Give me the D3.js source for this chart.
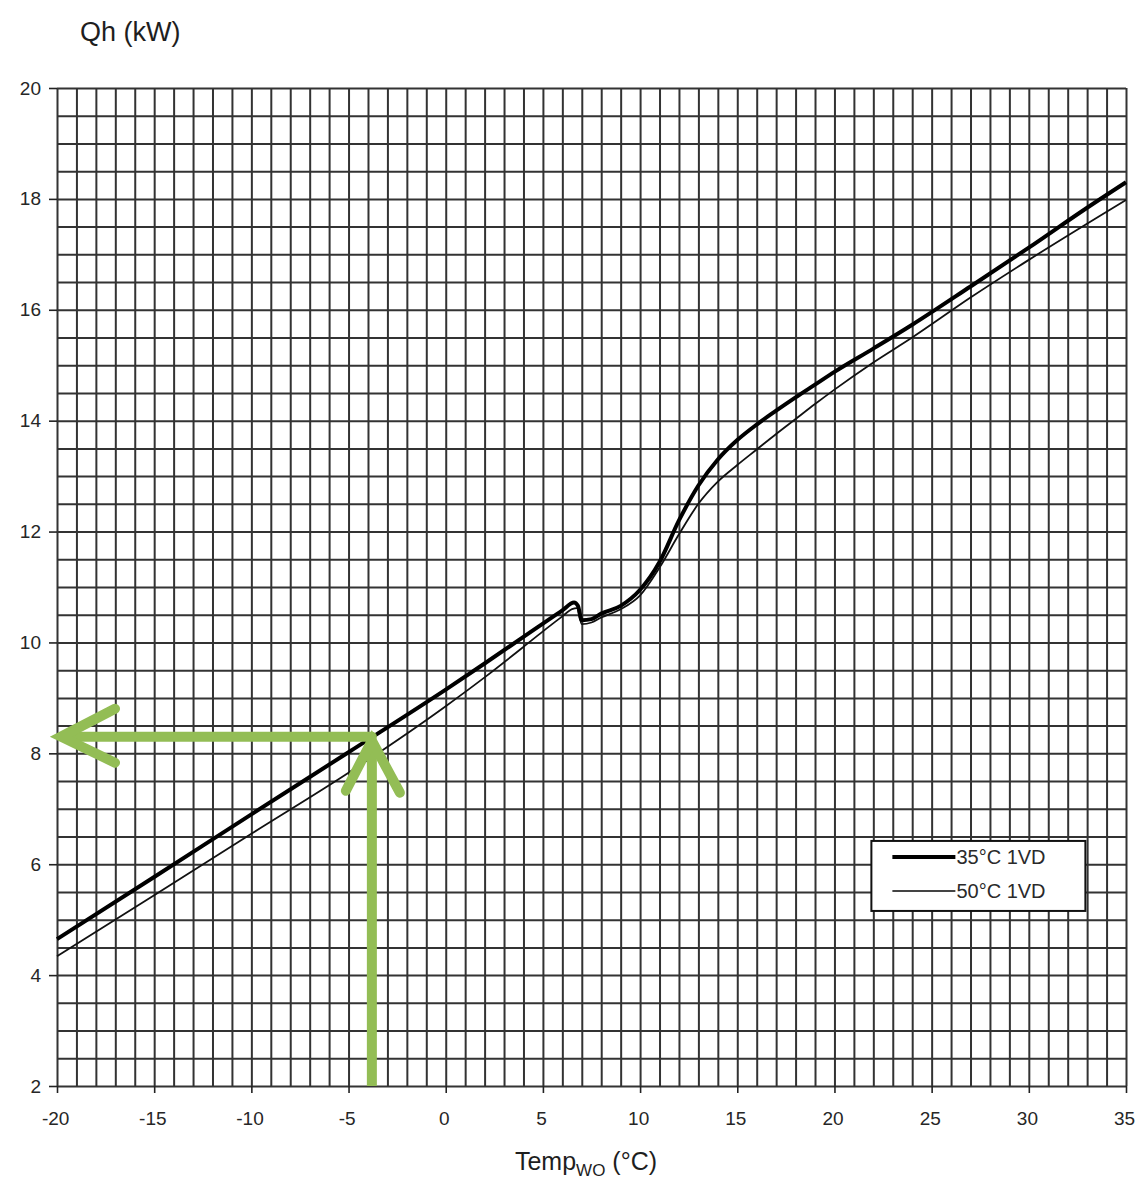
<!DOCTYPE html>
<html>
<head>
<meta charset="utf-8">
<script src="https://cdn.jsdelivr.net/npm/d3@7.9.0/dist/d3.min.js"></script>
<style>
  html, body { margin: 0; padding: 0; background: #fff; }
  svg { display: block; font-family: "Liberation Sans", Arial, sans-serif; }
  .grid line { stroke: #333; stroke-width: 2; }
  .grid path { display: none; }
  .axis path { display: none; }
  .axis line { stroke: #222; stroke-width: 1.6; }
  .axis text { fill: #262626; font-size: 19px; }
</style>
</head>
<body>
<div id="chart"></div>
<script>
// Chart data
const xTicks = [-20, -15, -10, -5, 0, 5, 10, 15, 20, 25, 30, 35];
const yTicks = [2, 4, 6, 8, 10, 12, 14, 16, 18, 20];

const temps35 = [-20, -15, -10, -5, 0, 2, 4, 5, 6, 6.6, 6.8, 7.0, 7.5, 8, 9, 10, 11, 12, 13, 14, 15, 16, 17, 18, 19, 20, 22, 24, 27, 30, 33, 35];
const qh35 =    [4.65, 5.77, 6.9, 8.02, 9.15, 9.62, 10.1, 10.34, 10.58, 10.72, 10.66, 10.4, 10.42, 10.52, 10.66, 10.95, 11.45, 12.2, 12.83, 13.3, 13.65, 13.93, 14.18, 14.42, 14.65, 14.88, 15.3, 15.73, 16.42, 17.12, 17.84, 18.3];

const temps50 = [-20, -15, -10, -5, 0, 2, 4, 5, 6, 6.5, 6.75, 7.0, 7.5, 8, 9, 10, 11, 12, 13, 14, 15, 16, 17, 18, 19, 20, 22, 24, 27, 30, 35];
const qh50 =    [4.34, 5.44, 6.55, 7.65, 8.85, 9.37, 9.92, 10.2, 10.47, 10.6, 10.62, 10.33, 10.36, 10.45, 10.6, 10.85, 11.35, 11.95, 12.5, 12.9, 13.2, 13.48, 13.76, 14.03, 14.3, 14.56, 15.05, 15.5, 16.22, 16.9, 17.98];

const seriesNames = ['35°C 1VD', '50°C 1VD'];

// Green read-out arrows
const readTemp = -3.8;
const readQh = 8.3;

// Dimensions
const width = 1148;
const height = 1184;
const margin = { top: 88, right: 22, bottom: 98, left: 57 };

const svg = d3.select('#chart')
    .append('svg')
    .attr('width', width)
    .attr('height', height);

const xScale = d3.scaleLinear()
    .domain([-20, 35])
    .range([margin.left, width - margin.right]);

const yScale = d3.scaleLinear()
    .domain([2, 20])
    .range([height - margin.bottom, margin.top]);

const plotW = xScale.range()[1] - xScale.range()[0];
const plotH = yScale.range()[0] - yScale.range()[1];

// Gridlines: 1 °C and 0.5 kW steps
svg.append('g')
    .attr('class', 'grid')
    .attr('transform', `translate(0, ${yScale(2)})`)
    .call(d3.axisBottom(xScale).tickValues(d3.range(-20, 35.01, 1)).tickFormat('').tickSize(-plotH).tickSizeOuter(0));

svg.append('g')
    .attr('class', 'grid')
    .attr('transform', `translate(${xScale(-20)}, 0)`)
    .call(d3.axisLeft(yScale).tickValues(d3.range(2, 20.01, 0.5)).tickFormat('').tickSize(-plotW).tickSizeOuter(0));

// Axes (plain hyphen for negatives, like the original)
svg.append('g')
    .attr('class', 'axis')
    .attr('transform', `translate(0, ${yScale(2)})`)
    .call(d3.axisBottom(xScale).tickValues(xTicks).tickSize(7).tickPadding(19).tickFormat((d) => String(d)))
    .selectAll('text')
    .attr('dx', '-0.1em');

svg.append('g')
    .attr('class', 'axis')
    .attr('transform', `translate(${xScale(-20)}, 0)`)
    .call(d3.axisLeft(yScale).tickValues(yTicks).tickSize(8).tickPadding(8).tickFormat((d) => String(d)));

// Curves
const line = d3.line()
    .x((d) => xScale(d[0]))
    .y((d) => yScale(d[1]))
    .curve(d3.curveMonotoneX);

svg.append('path')
    .datum(d3.zip(temps50, qh50))
    .attr('fill', 'none')
    .attr('stroke', '#111')
    .attr('stroke-width', 1.8)
    .attr('d', line);

svg.append('path')
    .datum(d3.zip(temps35, qh35))
    .attr('fill', 'none')
    .attr('stroke', '#000')
    .attr('stroke-width', 4)
    .attr('stroke-linejoin', 'round')
    .attr('d', line);

// Green arrows
const green = '#93bd55';
const ax = xScale(readTemp);
const ay = yScale(readQh);
const arrows = svg.append('g')
    .attr('stroke', green)
    .attr('stroke-width', 10)
    .attr('stroke-linecap', 'round')
    .attr('fill', 'none');

// vertical, from the x axis up to the curve
arrows.append('path').attr('d', `M${ax},${yScale(2)} V${ay + 6}`).attr('stroke-linecap', 'butt');
arrows.append('path').attr('d', `M${ax - 26},${ay + 54} L${ax},${ay + 4} L${ax + 28},${ay + 56}`);

// horizontal, from the curve to the y axis
arrows.append('path').attr('d', `M${ax},${ay} H${xScale(-20) + 6}`);
arrows.append('path').attr('d', `M${xScale(-20) + 58},${ay - 28} L${xScale(-20) + 4},${ay} L${xScale(-20) + 58},${ay + 26}`);

// Legend
const legend = svg.append('g').attr('transform', `translate(${xScale(21.9)}, ${yScale(6.42)})`);
legend.append('rect')
    .attr('width', 214)
    .attr('height', 70)
    .attr('fill', '#fff')
    .attr('stroke', '#111')
    .attr('stroke-width', 2);

seriesNames.forEach((name, i) => {
    const ly = 16 + i * 34;
    legend.append('line')
        .attr('x1', 21).attr('x2', 84)
        .attr('y1', ly).attr('y2', ly)
        .attr('stroke', i === 0 ? '#000' : '#444')
        .attr('stroke-width', i === 0 ? 4 : 2);
    legend.append('text')
        .attr('x', 85)
        .attr('y', ly + 7)
        .attr('font-size', 20)
        .attr('fill', '#2a2a2a')
        .text(name);
});

// Titles
svg.append('text')
    .attr('x', 80)
    .attr('y', 41)
    .attr('font-size', 27)
    .attr('fill', '#1e1e1e')
    .text('Qh (kW)');

const xTitle = svg.append('text')
    .attr('x', 586)
    .attr('y', 1170)
    .attr('text-anchor', 'middle')
    .attr('font-size', 25)
    .attr('fill', '#1e1e1e');
xTitle.append('tspan').text('Temp');
xTitle.append('tspan').attr('font-size', 17).attr('dy', 6).text('WO');
xTitle.append('tspan').attr('dy', -6).text(' (°C)');
</script>
</body>
</html>
